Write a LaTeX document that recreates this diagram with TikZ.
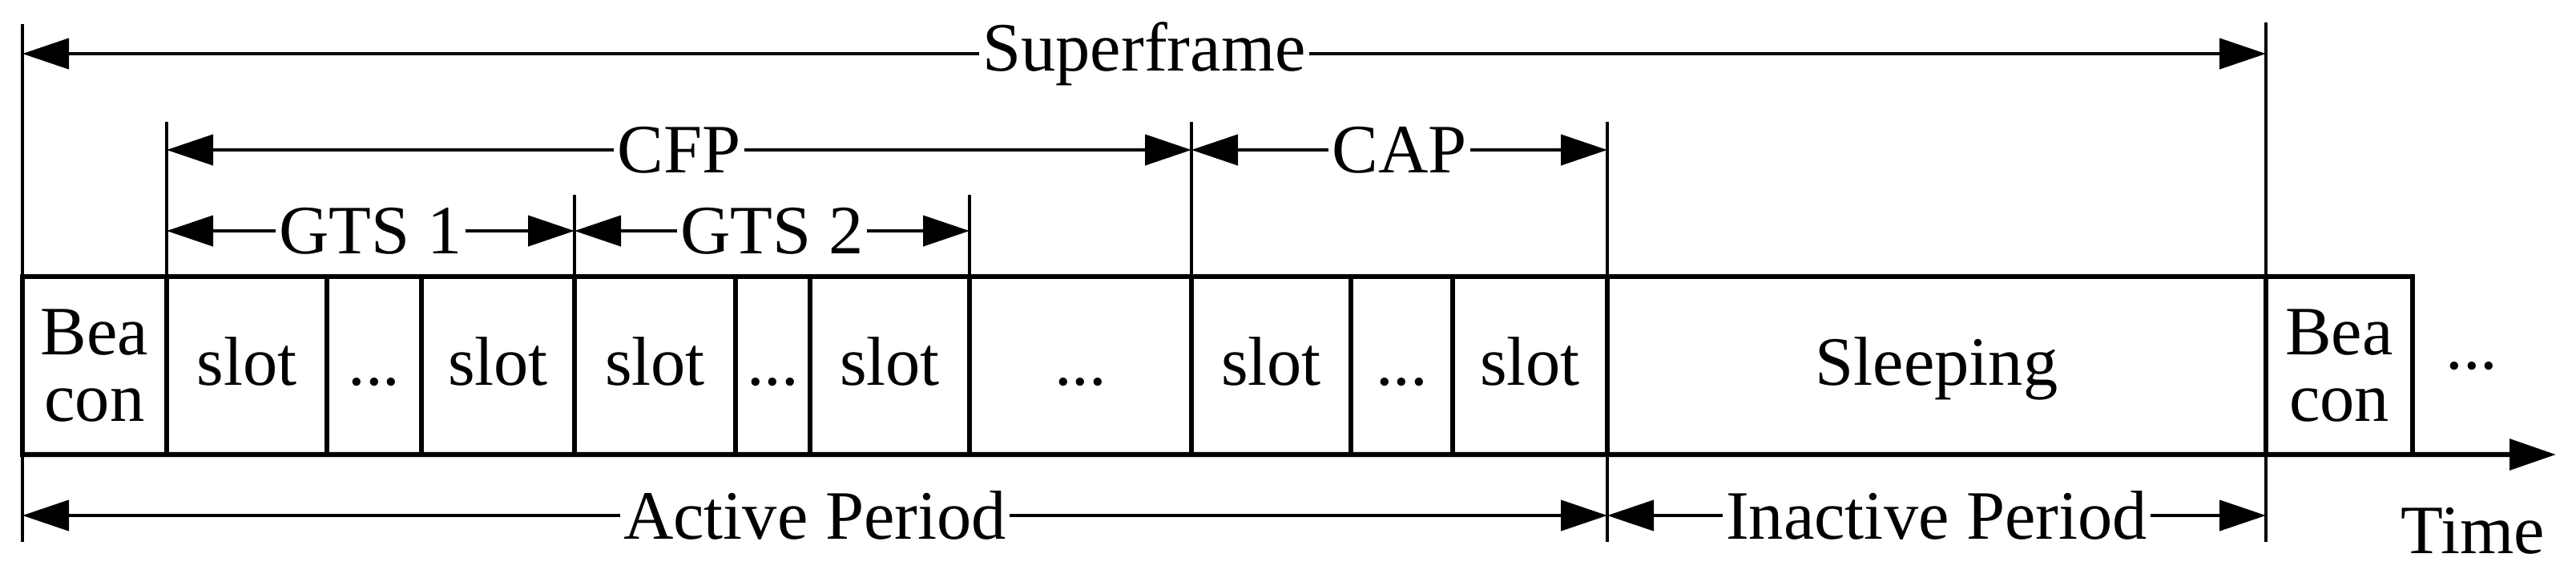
\documentclass[tikz,border=0pt]{standalone}
\usepackage{fontspec}
\setmainfont{Liberation Serif}
\usetikzlibrary{arrows.meta,positioning}

\begin{document}
\begin{tikzpicture}[
  every node/.style={font=\fontsize{12.3}{11.8}\selectfont},
  box/.style={draw, line width=0.75pt, outer sep=0pt, inner sep=0pt,
              minimum height=1.11cm, align=center},
  cell/.style={box, text height=0.3cm, text depth=0.06cm},
  tick/.style={line width=0.45pt},
  span/.style={{Triangle[length=2.9mm,width=1.9mm]}-{Triangle[length=2.9mm,width=1.9mm]},
               line width=0.6pt},
  lbl/.style={fill=white, inner sep=0.6pt},
  >={Triangle[length=2.9mm,width=1.9mm]}
]
\useasboundingbox (0,0) rectangle (16.075,3.6);

% superframe cells
\node[box, minimum width=0.9cm] (bcn1) at (0.59,1.32) {Bea\\con};
\node[cell, minimum width=1.0cm, right=0pt of bcn1] (s1) {slot};
\node[cell, minimum width=0.59cm, right=0pt of s1] (d1) {...};
\node[cell, minimum width=0.955cm, right=0pt of d1] (s2) {slot};
\node[cell, minimum width=1.005cm, right=0pt of s2] (s3) {slot};
\node[cell, minimum width=0.465cm, right=0pt of s3] (d2) {...};
\node[cell, minimum width=0.995cm, right=0pt of d2] (s4) {slot};
\node[cell, minimum width=1.385cm, right=0pt of s4] (dcfp) {...};
\node[cell, minimum width=0.995cm, right=0pt of dcfp] (s5) {slot};
\node[cell, minimum width=0.635cm, right=0pt of s5] (d3) {...};
\node[cell, minimum width=0.965cm, right=0pt of d3] (s6) {slot};
\node[cell, minimum width=4.11cm, right=0pt of s6] (sleep) {Sleeping};
\node[box, minimum width=0.915cm, right=0pt of sleep] (bcn2) {Bea\\con};
\node[cell, draw=none] (more) at (15.425,1.42) {...};

% time axis
\coordinate (tend) at (15.95,0.765);
\draw[->, line width=0.9pt] (bcn1.south west) -- (tend);
\node (time) at (15.43,0.29) {Time};

% boundary ticks
\draw[tick] (bcn1.north west |- 0,3.45) -- (bcn1.south west |- 0,0.22);
\draw[tick] (bcn2.north west |- 0,3.46) -- (bcn2.south west |- 0,0.22);
\draw[tick] (s6.north east |- 0,2.84) -- (s6.south east |- 0,0.22);
\draw[tick] (s1.north west |- 0,2.84) -- (s1.north west);
\draw[tick] (s5.north west |- 0,2.84) -- (s5.north west);
\draw[tick] (s3.north west |- 0,2.385) -- (s3.north west);
\draw[tick] (s4.north east |- 0,2.385) -- (s4.north east);

% spans
\draw[span] (bcn1.west |- 0,3.265) -- node[lbl] {Superframe} (bcn2.west |- 0,3.265);
\draw[span] (s1.west |- 0,2.665) -- node[lbl] {CFP} (s5.west |- 0,2.665);
\draw[span] (s5.west |- 0,2.665) -- node[lbl] {CAP} (s6.east |- 0,2.665);
\draw[span] (s1.west |- 0,2.16) -- node[lbl] {GTS 1} (s3.west |- 0,2.16);
\draw[span] (s3.west |- 0,2.16) -- node[lbl] {GTS 2} (s4.east |- 0,2.16);
\draw[span] (bcn1.west |- 0,0.385) -- node[lbl] {Active Period} (s6.east |- 0,0.385);
\draw[span] (s6.east |- 0,0.385) -- node[lbl] {Inactive Period} (bcn2.west |- 0,0.385);

\end{tikzpicture}
\end{document}
